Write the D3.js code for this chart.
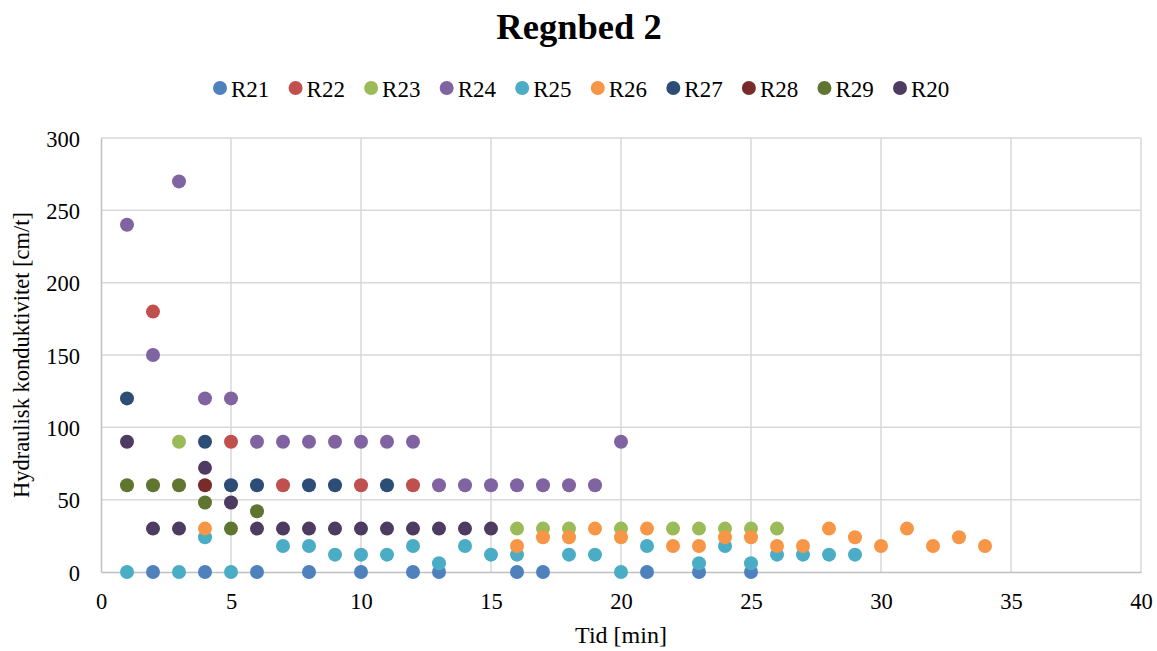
<!DOCTYPE html>
<html><head><meta charset="utf-8">
<script src="https://cdn.jsdelivr.net/npm/d3@7"></script>
<style>body{margin:0;background:#fff}svg{display:block}</style>
</head><body><svg id="c" width="1157" height="651"></svg>
<script>
const title = "Regnbed 2";
const xTitle = "Tid [min]";
const yTitle = "Hydraulisk konduktivitet [cm/t]";
const xTicks = [0,5,10,15,20,25,30,35,40];
const yTicks = [0,50,100,150,200,250,300];
const seriesNames = ["R21","R22","R23","R24","R25","R26","R27","R28","R29","R20"];
const colors = ["#4F81BD","#C0504D","#9BBB59","#8064A2","#4BACC6","#F79646","#2C4D75","#772C2A","#5F7530","#4D3B62"];

const R21 = [[2,0],[4,0],[6,0],[8,0],[10,0],[12,0],[13,0],[16,0],[17,0],[21,0],[23,0],[25,0]];
const R22 = [[2,180],[5,90],[7,60],[10,60],[12,60]];
const R23 = [[3,90],[16,30],[17,30],[18,30],[20,30],[22,30],[23,30],[24,30],[25,30],[26,30]];
const R24 = [[1,240],[2,150],[3,270],[4,120],[5,120],[6,90],[7,90],[8,90],[9,90],[10,90],[11,90],[12,90],[13,60],[14,60],[15,60],[16,60],[17,60],[18,60],[19,60],[20,90]];
const R25 = [[1,0],[3,0],[4,24],[5,0],[7,18],[8,18],[9,12],[10,12],[11,12],[12,18],[13,6],[14,18],[15,12],[16,12],[18,12],[19,12],[20,0],[21,18],[23,6],[24,18],[25,6],[26,12],[27,12],[28,12],[29,12]];
const R26 = [[4,30],[16,18],[17,24],[18,24],[19,30],[20,24],[21,30],[22,18],[23,18],[24,24],[25,24],[26,18],[27,18],[28,30],[29,24],[30,18],[31,30],[32,18],[33,24],[34,18]];
const R27 = [[1,120],[4,90],[5,60],[6,60],[8,60],[9,60],[11,60]];
const R28 = [[4,60]];
const R29 = [[1,60],[2,60],[3,60],[4,48],[5,30],[6,42]];
const R20 = [[1,90],[2,30],[3,30],[4,72],[5,48],[6,30],[7,30],[8,30],[9,30],[10,30],[11,30],[12,30],[13,30],[14,30],[15,30]];
const seriesData = [R21,R22,R23,R24,R25,R26,R27,R28,R29,R20];

const svg = d3.select("#c");
const font = "'Liberation Serif','Times New Roman',serif";
const x = d3.scaleLinear().domain([0,40]).range([101,1141]);
const y = d3.scaleLinear().domain([0,300]).range([572,138]);

// gridlines
svg.append("g").selectAll("line.h").data(yTicks.filter(d=>d>0)).join("line")
  .attr("x1",101).attr("x2",1141).attr("y1",d=>y(d)).attr("y2",d=>y(d))
  .attr("stroke","#D9D9D9").attr("stroke-width",1.5);
svg.append("g").selectAll("line.v").data(xTicks.filter(d=>d>0)).join("line")
  .attr("y1",138).attr("y2",572).attr("x1",d=>x(d)).attr("x2",d=>x(d))
  .attr("stroke","#D9D9D9").attr("stroke-width",1.5);

// axes
const xAxis = svg.append("g").attr("transform","translate(0,572)")
  .call(d3.axisBottom(x).tickValues(xTicks).tickSize(0).tickPadding(0));
const yAxis = svg.append("g").attr("transform","translate(101,0)")
  .call(d3.axisLeft(y).tickValues(yTicks).tickSize(0).tickPadding(21));
[xAxis,yAxis].forEach(a=>{
  a.select(".domain").attr("stroke","#BFBFBF").attr("stroke-width",1.5);
  a.selectAll("text").attr("font-family",font).attr("font-size",22.5).attr("fill","#000");
});
xAxis.selectAll("text").attr("y",37).attr("dy",0);
yAxis.selectAll("text").attr("dy","0.36em");

// points
seriesData.forEach((s,i)=>{
  svg.append("g").selectAll("circle").data(s).join("circle")
    .attr("cx",d=>x(d[0])).attr("cy",d=>y(d[1])).attr("r",7)
    .attr("fill",colors[i]);
});

// title
svg.append("text").attr("x",579).attr("y",39).attr("text-anchor","middle")
  .attr("font-family",font).attr("font-weight","bold").attr("font-size",36.5).text(title);

// axis titles
svg.append("text").attr("x",621).attr("y",643).attr("text-anchor","middle")
  .attr("font-family",font).attr("font-size",24).text(xTitle);
svg.append("text").attr("transform","translate(29,355) rotate(-90)").attr("text-anchor","middle")
  .attr("font-family",font).attr("font-size",22.5).text(yTitle);

// legend
const lx = d3.scalePoint().domain(seriesNames).range([220,900]);
const lg = svg.append("g").selectAll("g").data(seriesNames).join("g")
  .attr("transform",d=>`translate(${lx(d)},88)`);
lg.append("circle").attr("r",7).attr("fill",(d,i)=>colors[i]);
lg.append("text").attr("x",11).attr("y",9).attr("font-family",font)
  .attr("font-size",23).text(d=>d);
</script></body></html>
